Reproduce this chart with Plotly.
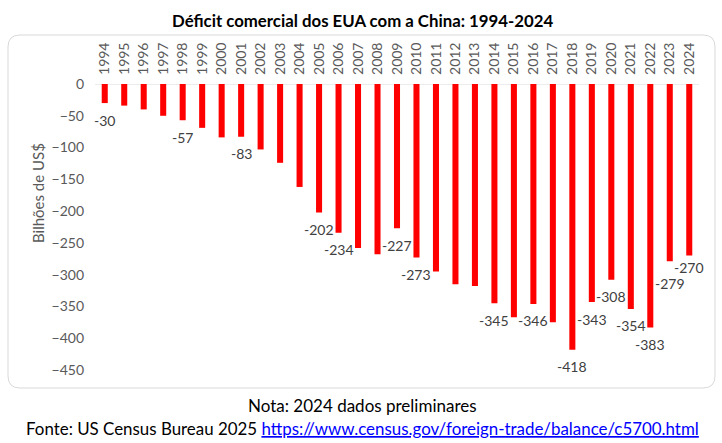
import plotly.graph_objects as go

years = [str(y) for y in range(1994, 2025)]
deficit = [-30, -34, -40, -50, -57, -69, -84, -83, -103, -124, -162, -202, -234,
           -258, -268, -227, -273, -295, -315, -318, -345, -367, -346, -375, -418,
           -343, -308, -354, -383, -279, -270]
labeled_years = ["1994", "1998", "2001", "2005", "2006", "2009", "2010", "2014", "2016",
                 "2018", "2019", "2020", "2021", "2022", "2023", "2024"]
y_ticks = [0, -50, -100, -150, -200, -250, -300, -350, -400, -450]

FONT = "Lato, 'Open Sans', sans-serif"
GRAY = "#595959"

W, H = 722, 443
L, R, T, B = 95, 23, 84, 73
PW, PH = W - L - R, H - T - B

# label offsets (pixels below the bar end), nudged where labels would collide
label_shift = {"2023": -22, "2024": -12}


def px(x):
    return (x - L) / PW


def py(y):
    return (H - B - y) / PH


fig = go.Figure()
fig.add_trace(go.Bar(x=years, y=deficit, marker=dict(color="#FF0000", line=dict(width=0)),
                     hoverinfo="x+y"))

annotations = []
for i, (yr, v) in enumerate(zip(years, deficit)):
    if yr in labeled_years:
        annotations.append(dict(x=i, y=v, xref="x", yref="y", text=str(v), showarrow=False,
                                yanchor="middle", yshift=label_shift.get(yr, -17),
                                font=dict(family=FONT, size=14, color="#404040")))

annotations += [
    dict(text="<b>Déficit comercial dos EUA com a China: 1994-2024</b>", xref="paper", yref="paper",
         x=px(362), y=py(20), xanchor="center", yanchor="middle", showarrow=False,
         font=dict(family=FONT, size=16.8, color="#000000")),
    dict(text="Bilhões de US$", xref="paper", yref="paper", x=px(38), y=py(193),
         xanchor="center", yanchor="middle", textangle=-90, showarrow=False,
         font=dict(family=FONT, size=15, color=GRAY)),
    dict(text="Nota: 2024 dados preliminares", xref="paper", yref="paper", x=px(362), y=py(405),
         xanchor="center", yanchor="middle", showarrow=False,
         font=dict(family=FONT, size=17, color="#000000")),
    dict(text="Fonte: US Census Bureau 2025 <span style='color:#0000FF'><u>https://www.census.gov/foreign-trade/balance/c5700.html</u></span>",
         xref="paper", yref="paper", x=px(362), y=py(428),
         xanchor="center", yanchor="middle", showarrow=False,
         font=dict(family=FONT, size=16.9, color="#000000")),
]

# rounded frame
x0, x1, y0, y1, r = 8, 715, 35, 388, 12
rx, ry = r / PW, r / PH
X0, X1, Y0, Y1 = px(x0), px(x1), py(y1), py(y0)
path = (f"M {X0+rx},{Y1} L {X1-rx},{Y1} Q {X1},{Y1} {X1},{Y1-ry} "
        f"L {X1},{Y0+ry} Q {X1},{Y0} {X1-rx},{Y0} L {X0+rx},{Y0} "
        f"Q {X0},{Y0} {X0},{Y0+ry} L {X0},{Y1-ry} Q {X0},{Y1} {X0+rx},{Y1} Z")

fig.update_layout(
    width=W, height=H,
    margin=dict(l=L, r=R, t=T, b=B),
    paper_bgcolor="white", plot_bgcolor="white",
    bargap=0.69, showlegend=False,
    annotations=annotations,
    shapes=[dict(type="path", path=path, xref="paper", yref="paper",
                 line=dict(color="#D9D9D9", width=1), layer="below"),
            dict(type="line", xref="paper", yref="y", x0=0, x1=1, y0=0, y1=0,
                 line=dict(color="#D9D9D9", width=1), layer="below")],
    xaxis=dict(side="top", type="category", tickangle=-90, showgrid=False, zeroline=False,
               showline=False, ticks="", ticklabelstandoff=8, range=[-0.5, len(years) - 0.5],
               tickfont=dict(family=FONT, size=14, color=GRAY)),
    yaxis=dict(range=[-450, 0], tickvals=y_ticks, showgrid=False, zeroline=False,
               showline=False, ticks="", ticklabelstandoff=10,
               tickfont=dict(family=FONT, size=14, color=GRAY)),
)

fig.write_html("out.html")
